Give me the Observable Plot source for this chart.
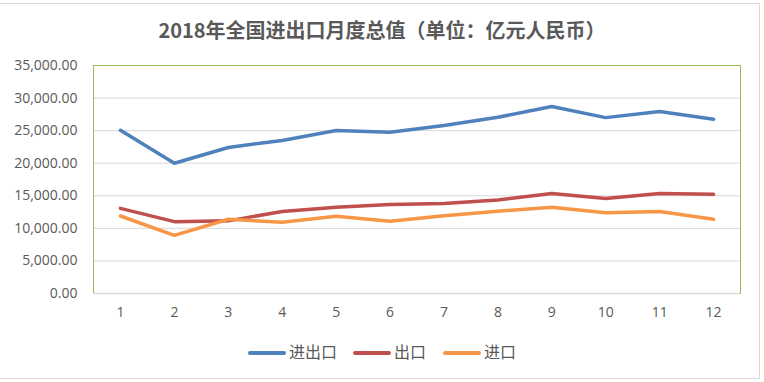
<!DOCTYPE html>
<html>
<head>
<meta charset="utf-8">
<script src="https://cdn.jsdelivr.net/npm/d3@7"></script>
<script src="https://cdn.jsdelivr.net/npm/@observablehq/plot@0.6"></script>
<style>
  html, body { margin: 0; padding: 0; background: #fff; }
  #wrap { position: relative; width: 764px; height: 382px; overflow: hidden; background: #fff; }
  #border { position: absolute; left: -1px; top: 3px; width: 759px; height: 374px; border: 1px solid #D9D9D9; }
  #title { position: absolute; left: 0; top: 17px; width: 764px; text-align: center; font-family: "Noto Sans CJK SC", sans-serif; font-size: 20px; font-weight: bold; color: #595959; line-height: 26px; }
  #chart { position: absolute; left: 0; top: 50px; }
  #legend { position: absolute; top: 340px; left: 0; width: 764px; height: 22px; font-family: "Noto Sans CJK SC", sans-serif; font-size: 16px; color: #595959; }
  .item { position: absolute; top: 0; height: 22px; line-height: 22px; white-space: nowrap; }
  .swatch { display: inline-block; width: 38px; height: 4px; border-radius: 2px; vertical-align: middle; margin-right: 3px; position: relative; top: -1px; }
</style>
</head>
<body>
<div id="wrap">
  <div id="border"></div>
  <div id="title"></div>
  <div id="chart"></div>
  <div id="legend"></div>
</div>
<script>
const title = "2018年全国进出口月度总值（单位：亿元人民币）";
const months = [1, 2, 3, 4, 5, 6, 7, 8, 9, 10, 11, 12];
const seriesNames = ["进出口", "出口", "进口"];
const seriesColors = ["#4F81BD", "#C0504D", "#F79646"];
const total = [25050, 20000, 22420, 23500, 25020, 24760, 25800, 27050, 28700, 27000, 27950, 26750];
const exportsV = [13070, 11030, 11150, 12590, 13230, 13660, 13800, 14350, 15350, 14600, 15360, 15220];
const importsV = [11900, 8930, 11400, 10940, 11850, 11080, 11950, 12640, 13250, 12400, 12600, 11400];
const yTicks = [0, 5000, 10000, 15000, 20000, 25000, 30000, 35000];

document.getElementById("title").textContent = title;

const valuesBySeries = [total, exportsV, importsV];
const data = [];
seriesNames.forEach((s, i) => {
  months.forEach((m, j) => data.push({series: s, month: m, value: valuesBySeries[i][j]}));
});

const chart = Plot.plot({
  width: 764,
  height: 280,
  marginLeft: 93,
  marginRight: 24,
  marginTop: 15,
  marginBottom: 37,
  style: {fontFamily: "'Open Sans', sans-serif", fontSize: "14px", color: "#595959", background: "transparent"},
  x: {type: "point", domain: months, padding: 0.5, round: false, axis: null, label: null},
  y: {domain: [0, 35000], axis: null, label: null},
  color: {domain: seriesNames, range: seriesColors},
  marks: [
    Plot.ruleY(yTicks.filter(d => d > 0), {stroke: "#D9D9D9", strokeWidth: 1}),
    Plot.frame({stroke: "#9BBB59", strokeWidth: 1}),
    Plot.ruleY([0], {stroke: "#D9D9D9", strokeWidth: 1.5}),
    Plot.axisY(yTicks, {tickSize: 0, tickPadding: 16, tickFormat: d3.format(",.2f"), fill: "#595959", fontSize: 14, label: null}),
    Plot.axisX(months, {tickSize: 0, tickPadding: 14, fill: "#595959", fontSize: 14, label: null}),
    Plot.line(data, {x: "month", y: "value", z: "series", stroke: "series", strokeWidth: 3.5, strokeLinecap: "round", strokeLinejoin: "round"})
  ]
});
document.getElementById("chart").appendChild(chart);

const legend = document.getElementById("legend");
const lefts = [248, 353, 443];
seriesNames.forEach((s, i) => {
  const it = document.createElement("div");
  it.className = "item";
  it.style.left = lefts[i] + "px";
  const sw = document.createElement("span");
  sw.className = "swatch";
  sw.style.background = seriesColors[i];
  it.appendChild(sw);
  it.appendChild(document.createTextNode(s));
  legend.appendChild(it);
});
</script>
</body>
</html>
